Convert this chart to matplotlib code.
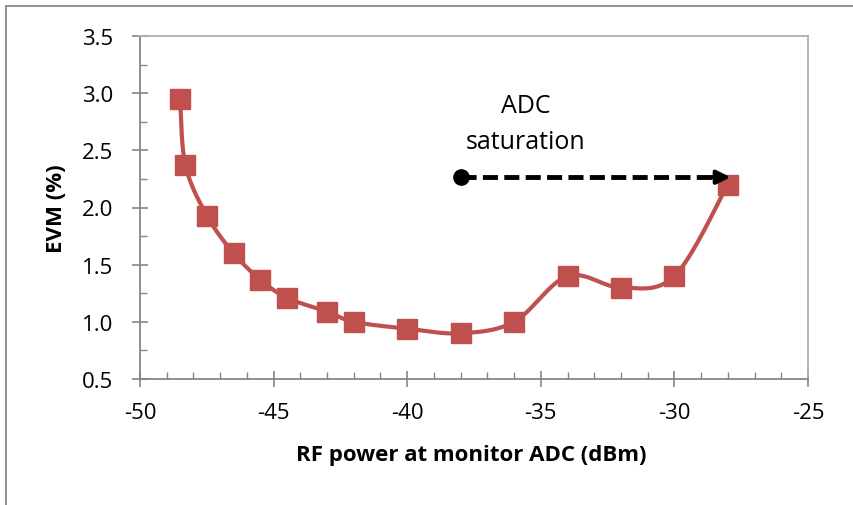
import numpy as np
import matplotlib
matplotlib.use("Agg")
import matplotlib.pyplot as plt
from matplotlib.lines import Line2D
from matplotlib.ticker import MultipleLocator

# ---- data ----
rf_power = [-48.5, -48.3, -47.5, -46.5, -45.5, -44.5, -43, -42, -40, -38, -36, -34, -32, -30, -28]
evm = [2.95, 2.37, 1.93, 1.60, 1.37, 1.21, 1.09, 1.00, 0.94, 0.90, 1.00, 1.40, 1.30, 1.40, 2.20]
x_ticks = [-50, -45, -40, -35, -30, -25]
y_ticks = [0.5, 1.0, 1.5, 2.0, 2.5, 3.0, 3.5]
arrow_start = (-38, 2.265)
arrow_end = (-27.9, 2.265)
note_lines = ['ADC', 'saturation']
note_x = -35.57
note_baselines = [2.833, 2.518]

plt.rcParams['font.family'] = ['Open Sans', 'DejaVu Sans']

RED = '#C0504D'


def smooth(xs, ys, n=30):
    # Excel-style smoothed line (Bezier with Catmull-Rom control points)
    P = np.column_stack([xs, ys]).astype(float)
    P = np.vstack([P[0], P, P[-1]])
    out = []
    t = np.linspace(0, 1, n)[:, None]
    for i in range(1, len(P) - 2):
        p0, p1, p2, p3 = P[i - 1], P[i], P[i + 1], P[i + 2]
        c1 = p1 + (p2 - p0) / 6.0
        c2 = p2 - (p3 - p1) / 6.0
        seg = ((1 - t) ** 3) * p1 + 3 * ((1 - t) ** 2) * t * c1 + 3 * (1 - t) * t ** 2 * c2 + t ** 3 * p2
        out.append(seg if i == 1 else seg[1:])
    out = np.vstack(out)
    return out[:, 0], out[:, 1]


W, H = 854, 506
fig = plt.figure(figsize=(W / 100, H / 100), dpi=100)
ax = fig.add_axes([140 / W, 1 - 380 / H, (808 - 140) / W, (380 - 37) / H])

sx, sy = smooth(rf_power, evm)
ax.plot(sx, sy, color=RED, lw=3.0, solid_capstyle='round', zorder=3)
ax.plot(rf_power, evm, ls='none', marker='s', ms=14.5, color=RED, mec=RED, zorder=4)

ax.set_xlim(-50, -25)
ax.set_ylim(0.5, 3.5)
ax.set_xticks(x_ticks)
ax.set_yticks(y_ticks)
ax.set_xticklabels([f"{v:d}" for v in x_ticks])
ax.set_yticklabels([f"{v:.1f}" for v in y_ticks])
ax.xaxis.set_minor_locator(MultipleLocator(1))
ax.yaxis.set_minor_locator(MultipleLocator(0.25))

axis_gray = '#868686'
ax.tick_params(axis='both', which='major', direction='inout', length=11, width=1.2,
               color=axis_gray, labelsize=16, labelcolor='black')
ax.tick_params(axis='y', which='major', pad=14)
ax.tick_params(axis='x', which='major', pad=11)
ax.tick_params(axis='both', which='minor', direction='in', length=5, width=1.0, color=axis_gray)
ax.tick_params(top=False, right=False, which='both')

for s in ['left', 'bottom']:
    ax.spines[s].set_color(axis_gray)
    ax.spines[s].set_linewidth(1.3)
for s in ['top', 'right']:
    ax.spines[s].set_color('#B0B0B0')
    ax.spines[s].set_linewidth(1.3)

# annotation
ax.plot([arrow_start[0], arrow_end[0] - 0.5], [arrow_start[1], arrow_end[1]], color='black',
        lw=3.5, ls=(0, (3.1, 1.3)), zorder=5)
ax.plot(arrow_start[0], arrow_start[1], 'o', color='black', ms=11, zorder=6)
ax.annotate('', xy=arrow_end, xytext=(arrow_end[0] - 0.7, arrow_end[1]),
            arrowprops=dict(arrowstyle='-|>', color='black', lw=3, mutation_scale=20,
                            shrinkA=0, shrinkB=0), zorder=6)
for txt, yb in zip(note_lines, note_baselines):
    ax.text(note_x, yb, txt, ha='center', va='baseline', fontsize=18, color='black')

fig.text(471.5 / W, 1 - 456 / H, 'RF power at monitor ADC (dBm)', ha='center', va='center',
         fontsize=16, fontweight='bold')
fig.text(57 / W, 1 - 208.5 / H, 'EVM (%)', ha='center', va='center', rotation=90,
         fontsize=16, fontweight='bold')

# chart frame (top and left border)
fig.add_artist(Line2D([6.5 / W, 1], [1 - 6.5 / H, 1 - 6.5 / H], color='#888888', lw=1.3,
                      transform=fig.transFigure))
fig.add_artist(Line2D([6.5 / W, 6.5 / W], [0, 1 - 6.5 / H], color='#888888', lw=1.3,
                      transform=fig.transFigure))

fig.savefig('out.png', dpi=100)
